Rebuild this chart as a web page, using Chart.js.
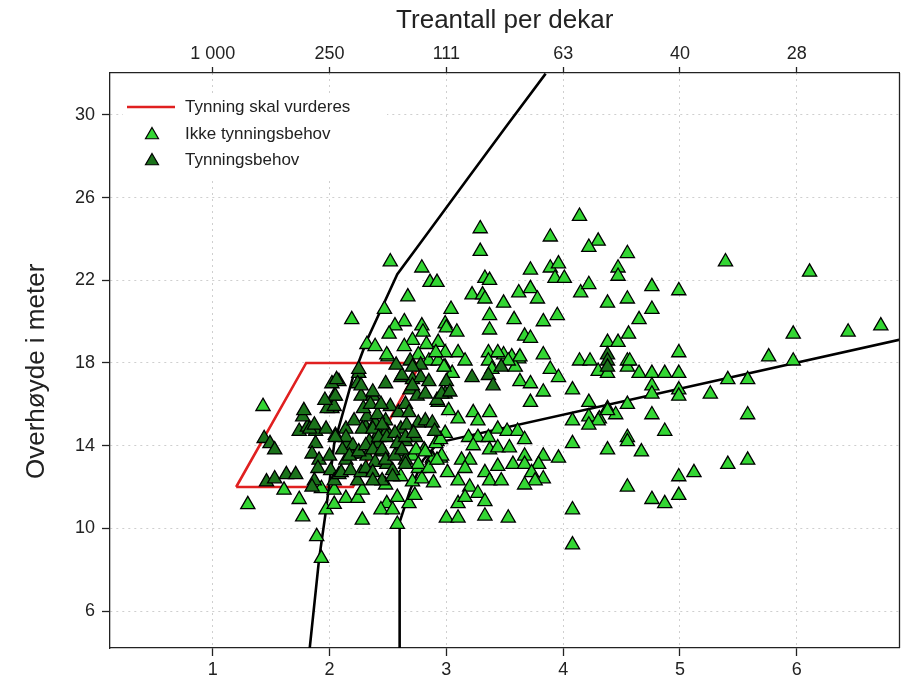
<!DOCTYPE html>
<html>
<head>
<meta charset="utf-8">
<script src="https://cdn.jsdelivr.net/npm/chart.js@4"></script>
<style>
  html, body { margin: 0; padding: 0; background: #fff; overflow: hidden; }
  #wrap { width: 909px; height: 691px; position: relative; }
  #treChart { display: block; }
</style>
</head>
<body>
<div id="wrap"><canvas id="treChart"></canvas></div>
<script>
// axis ticks
const xTicks = [1, 2, 3, 4, 5, 6];
const topLabels = ['1 000', '250', '111', '63', '40', '28'];
const yTicks = [6, 10, 14, 18, 22, 26, 30];

// reference lines
const redBox = [[1.2, 12], [1.8, 18], [2.78, 18], [2.2, 12], [1.2, 12]];
const curveLeft = [[1.83, 4.2], [1.91, 8.5], [1.97, 10.9], [2.04, 14.1], [2.12, 15.7], [2.2, 17.3],
  [2.32, 19.1], [2.45, 20.7], [2.58, 22.3], [2.79, 23.9], [3.18, 26.9], [3.52, 29.5], [3.85, 32]];
const curveRight = [[2.6, 4.2], [2.6, 10.3], [2.69, 11.85], [2.8, 13.3], [2.93, 14.15], [6.9, 19.15]];

// Ikke tynningsbehov
const ikkePts = [
  [4.14,25.1],[3.29,24.5],[3.89,24.1],[4.30,23.9],[4.22,23.6],[3.29,23.4],[4.55,23.3],[5.39,22.9],
  [3.72,22.5],[3.89,22.6],[3.96,22.8],[4.47,22.6],[4.47,22.2],[3.93,22.1],[4.01,22.1],[3.33,22.1],
  [3.37,22.0],[3.22,21.3],[3.31,21.3],[3.33,21.1],[3.62,21.4],[3.72,21.6],[3.78,21.1],[4.15,21.4],
  [4.22,21.8],[4.76,21.7],[4.99,21.5],[6.11,22.4],[4.38,20.9],[4.55,21.1],[3.49,20.9],[3.04,20.6],
  [3.37,20.3],[3.58,20.1],[3.83,20.0],[3.95,20.3],[4.65,20.1],[4.76,20.6],[2.99,19.9],[3.00,19.7],
  [3.09,19.5],[3.37,19.6],[3.67,19.3],[3.72,19.2],[2.93,19.0],[3.10,18.5],[3.16,18.1],[3.49,18.4],
  [3.56,18.3],[3.62,18.2],[3.83,18.4],[3.89,17.7],[4.14,18.1],[4.23,18.1],[4.38,19.0],[4.47,19.0],
  [4.56,19.4],[4.55,18.1],[4.65,17.5],[4.76,17.5],[4.87,17.5],[4.99,18.5],[4.99,17.5],[4.30,17.6],
  [5.97,19.4],[6.44,19.5],[6.72,19.8],[5.76,18.3],[5.97,18.1],[4.55,17.8],[5.41,17.2],[5.58,17.2],
  [4.76,16.9],[4.76,16.5],[4.99,16.7],[4.99,16.4],[5.26,16.5],[4.55,16.0],[4.38,15.8],[4.45,15.5],
  [4.31,15.3],[4.76,15.5],[5.58,15.5],[4.87,14.7],[4.55,14.4],[4.55,14.2],[4.38,13.8],[4.67,13.7],
  [5.41,13.1],[5.58,13.3],[5.12,12.7],[4.99,12.5],[4.55,12.0],[4.76,11.4],[4.87,11.2],[4.99,11.6],
  [2.50,18.3],[2.85,18.1],[2.93,18.1],[2.99,18.5],[3.36,18.5],[3.44,18.5],[3.36,18.1],[3.96,17.3],
  [3.63,17.1],[3.72,17.0],[3.83,16.6],[4.08,16.7],[4.38,17.5],[4.57,18.1],[3.72,16.1],[4.22,16.1],
  [4.38,15.7],[4.08,15.2],[4.22,15.4],[4.30,15.2],[4.22,15.0],[3.23,15.6],[3.37,15.6],[3.27,15.2],
  [3.44,14.8],[3.52,14.7],[3.61,14.7],[3.67,14.3],[3.19,14.4],[3.27,14.4],[3.36,14.4],[3.23,14.0],
  [3.37,13.8],[3.44,13.9],[3.54,13.9],[4.08,14.1],[3.67,13.5],[3.83,13.5],[3.96,13.4],[3.13,13.3],
  [3.20,13.3],[3.01,12.7],[3.16,12.9],[3.33,12.7],[3.44,13.0],[3.57,13.1],[3.67,13.1],[3.79,13.1],
  [3.73,12.7],[3.83,12.4],[3.76,12.3],[3.10,12.3],[3.20,12.0],[3.37,12.3],[3.47,12.3],[3.67,12.1],
  [3.27,11.7],[3.33,11.3],[3.10,11.2],[3.16,11.5],[3.00,10.5],[3.10,10.5],[3.33,10.6],[3.53,10.5],
  [4.08,10.9],[4.08,9.2],[2.58,10.2],[2.49,11.2],[2.58,11.5],[2.68,11.2],[2.73,11.6],[2.88,13.4],
  [2.95,13.4],[2.76,12.9],[2.89,12.2],[2.99,17.8],[3.05,17.5],[3.39,17.7],[3.59,17.8],[3.63,18.3],
  [3.53,18.1],[2.52,22.9],[2.79,22.6],[2.86,21.9],[2.92,21.9],[2.67,21.2],[2.19,20.1],[2.47,20.6],
  [2.64,20.0],[2.56,19.8],[2.51,19.4],[2.79,19.8],[2.80,19.5],[2.32,18.9],[2.39,18.8],[2.49,18.4],
  [2.71,19.1],[2.64,18.8],[2.83,18.9],[2.91,18.5],[2.76,18.4],[2.98,17.8],[2.71,13.5],[2.81,13.8],
  [2.88,13.3],[2.92,14.2],[2.96,13.5],[2.99,14.6],[2.76,13.1],[1.30,11.15],[1.61,11.85],[1.74,11.4],
  [1.77,10.56],[1.89,9.6],[1.93,8.55],[1.97,10.9],[2.04,11.16],[2.14,11.45],[2.24,11.45],[2.28,11.85],
  [2.28,10.4],[2.04,11.85],[1.93,11.93],[2.44,10.9],[2.54,10.9],[2.48,12.1],[2.61,12.5],[2.71,12.25],
  [2.79,12.4],[2.85,12.9],[2.92,13.3],[2.74,13.8],[2.82,13.7],[2.91,14.1],[2.95,14.3],[1.43,15.9],
  [3.10,15.3],[3.02,15.7]
];

// Tynningsbehov
const behovPts = [
  [1.44,14.35],[1.49,14.1],[1.53,13.8],[1.46,12.25],[1.53,12.4],[1.63,12.6],[1.71,12.6],
  [1.74,14.7],[1.81,14.9],[1.88,14.7],[1.77,15.4],[1.78,15.7],[1.83,14.8],[1.87,15.0],
  [1.88,14.1],[1.85,13.6],[1.91,13.3],[1.90,12.9],[1.87,12.3],[1.85,12.0],
  [2.00,13.5],[2.01,12.8],[2.04,12.3],[2.08,12.6],
  [2.05,14.5],[2.14,14.8],[2.15,14.1],[2.18,13.6],[2.14,13.3],[2.10,12.7],[2.18,12.8],[2.24,12.3],[2.27,12.7],
  [2.21,15.2],[2.31,14.9],[2.32,15.4],[2.39,15.1],[2.48,15.2],[2.42,14.6],[2.49,14.7],
  [2.25,13.6],[2.32,13.5],[2.34,14.2],[2.42,14.1],[2.45,13.7],[2.39,13.2],[2.31,12.9],[2.37,12.7],
  [2.49,13.1],[2.54,12.8],[2.45,12.3],[2.37,12.3],
  [2.61,14.8],[2.66,15.0],[2.65,14.2],[2.74,14.4],[2.76,15.1],[2.82,15.2],[2.88,15.1],
  [2.59,13.7],[2.65,13.3],[2.54,12.5],
  [2.08,17.1],[2.04,16.4],[2.02,15.8],[2.25,17.5],[2.24,17.0],[2.27,16.4],[2.29,15.8],[2.37,16.4],
  [2.35,16.0],[2.41,15.5],[2.48,17.0],[2.52,15.9],[2.59,15.6],[2.65,16.0],[2.68,15.6],
  [2.61,17.3],[2.71,17.2],[2.69,16.7],[2.78,17.3],[2.85,17.1],[2.75,16.4],[2.82,16.5],[2.93,16.1],[2.99,16.5],
  [2.69,18.1],[2.78,17.9],
  [2.28,14.8],[2.37,14.8],[2.45,15.0],[2.42,14.4],[2.49,14.4],[2.56,14.6],[2.58,14.1],[2.65,14.4],[2.72,14.6],
  [2.14,14.4],[2.20,14.0],[2.11,13.8],[2.17,13.5],[2.25,13.7],[2.31,14.0],[2.37,13.8],[2.45,13.8],
  [2.48,13.3],[2.56,13.5],[2.62,13.8],[2.65,13.1],
  [1.98,15.8],[2.04,15.9],[2.05,16.4],[2.27,16.9],[1.97,14.8],[2.05,14.4],[2.37,16.6],[2.44,16.0],
  [2.62,17.4],[2.71,16.9],[2.92,16.2],[2.96,16.5],[3.00,17.1],[3.03,16.6],[2.90,14.7],
  [2.02,17.0],[1.96,16.2],[2.71,17.8],[2.57,17.9],[2.06,17.2],[2.25,17.7],
  [4.38,18.4],[4.38,18.1],[4.38,17.8],
  [3.36,17.4],[3.40,16.9],[3.47,17.8],[3.22,17.3]
];

const lightFill = '#33d633';
const darkFill = '#1b731b';
const fontFam = "'Liberation Sans', Arial, sans-serif";
const ptRadius = 8.2;

const toXY = arr => arr.map(p => ({ x: p[0], y: p[1] }));

function triangle(ctx, cx, cy, r) {
  ctx.beginPath();
  ctx.moveTo(cx, cy - r);
  ctx.lineTo(cx + r * 0.866, cy + r / 2);
  ctx.lineTo(cx - r * 0.866, cy + r / 2);
  ctx.closePath();
}

// legend drawn inside the plot, top-left, on a white box; also closes the box on the right
const legendBox = {
  id: 'legendBox',
  afterDatasetsDraw(chart) {
    const ctx = chart.ctx;
    const a = chart.chartArea;
    ctx.save();
    ctx.strokeStyle = '#222';
    ctx.lineWidth = 1.3;
    ctx.beginPath();
    ctx.moveTo(a.right, a.top);
    ctx.lineTo(a.right, a.bottom);
    ctx.stroke();

    const x0 = a.left + 13, y0 = a.top + 22;
    ctx.fillStyle = '#fff';
    ctx.fillRect(x0, y0, 264, 84);
    ctx.strokeStyle = '#e02020';
    ctx.lineWidth = 2.5;
    ctx.beginPath();
    ctx.moveTo(x0 + 4, y0 + 12);
    ctx.lineTo(x0 + 52, y0 + 12);
    ctx.stroke();
    ctx.lineWidth = 1.2;
    ctx.strokeStyle = '#000';
    [[lightFill, 39], [darkFill, 65]].forEach(([c, dy]) => {
      triangle(ctx, x0 + 29, y0 + dy + 1, 7.5);
      ctx.fillStyle = c;
      ctx.fill();
      ctx.stroke();
    });
    ctx.fillStyle = '#222';
    ctx.font = '17px ' + fontFam;
    ctx.textBaseline = 'middle';
    ctx.fillText('Tynning skal vurderes', x0 + 62, y0 + 12);
    ctx.fillText('Ikke tynningsbehov', x0 + 62, y0 + 39);
    ctx.fillText('Tynningsbehov', x0 + 62, y0 + 65);
    ctx.restore();
  }
};

const lineSet = (data, color, order) => ({
  type: 'scatter', data: toXY(data), showLine: true, borderColor: color, borderWidth: 2.6,
  pointRadius: 0, pointHoverRadius: 0, fill: false, order: order
});
const pointSet = (label, data, fill, order) => ({
  type: 'scatter', label: label, data: toXY(data), pointStyle: 'triangle', pointRadius: ptRadius,
  backgroundColor: fill, borderColor: '#000', borderWidth: 1.3, order: order
});

const gridOpts = { color: '#cfcfcf', lineWidth: 1, tickLength: 8, tickColor: '#222', tickWidth: 1.3, tickBorderDash: [] };
const borderOpts = { display: true, color: '#222', width: 1.3, dash: [2, 4] };
const tickFont = { family: fontFam, size: 18 };

// fixed axis sizes so the plot box lands where the reference has it
const fitH = h => s => { s.height = h; s.paddingLeft = 0; s.paddingRight = 0; };
const fitW = w => s => { s.width = w; s.paddingTop = 0; s.paddingBottom = 0; };

new Chart(document.getElementById('treChart').getContext('2d'), {
  type: 'scatter',
  data: {
    datasets: [
      pointSet('Tynningsbehov', behovPts, darkFill, 1),
      pointSet('Ikke tynningsbehov', ikkePts, lightFill, 2),
      lineSet(curveLeft, '#000', 3),
      lineSet(curveRight, '#000', 3),
      lineSet(redBox, '#e02020', 4)
    ]
  },
  options: {
    responsive: true,
    maintainAspectRatio: false,
    animation: false,
    layout: { padding: { left: 0, top: 0, bottom: 0, right: 4 } },
    plugins: { legend: { display: false }, tooltip: { enabled: false } },
    scales: {
      x: {
        type: 'linear', position: 'bottom', min: 0.12, max: 6.88,
        afterBuildTicks: s => { s.ticks = xTicks.map(v => ({ value: v })); },
        afterFit: fitH(43),
        ticks: { font: tickFont, color: '#222', padding: 3, maxRotation: 0, autoSkip: false },
        grid: gridOpts,
        border: borderOpts
      },
      x2: {
        type: 'linear', position: 'top', min: 0.12, max: 6.88,
        afterBuildTicks: s => { s.ticks = xTicks.map(v => ({ value: v })); },
        afterFit: fitH(73),
        ticks: {
          font: tickFont, color: '#222', padding: 2, maxRotation: 0, autoSkip: false,
          callback: v => topLabels[xTicks.indexOf(v)]
        },
        grid: Object.assign({}, gridOpts, { drawOnChartArea: false, tickLength: 6 }),
        border: borderOpts,
        title: { display: true, text: 'Treantall per dekar', color: '#222',
          font: { family: fontFam, size: 26 }, padding: { top: 5, bottom: 0 } }
      },
      y: {
        type: 'linear', position: 'left', min: 4.21, max: 32.03,
        afterBuildTicks: s => { s.ticks = yTicks.map(v => ({ value: v })); },
        afterFit: fitW(110),
        ticks: { font: tickFont, color: '#222', padding: 7 },
        grid: gridOpts,
        border: borderOpts,
        title: { display: true, text: 'Overhøyde i meter   ', color: '#222',
          font: { family: fontFam, size: 26 }, padding: { top: 21, bottom: 0 } }
      }
    }
  },
  plugins: [legendBox]
});
</script>
</body>
</html>
